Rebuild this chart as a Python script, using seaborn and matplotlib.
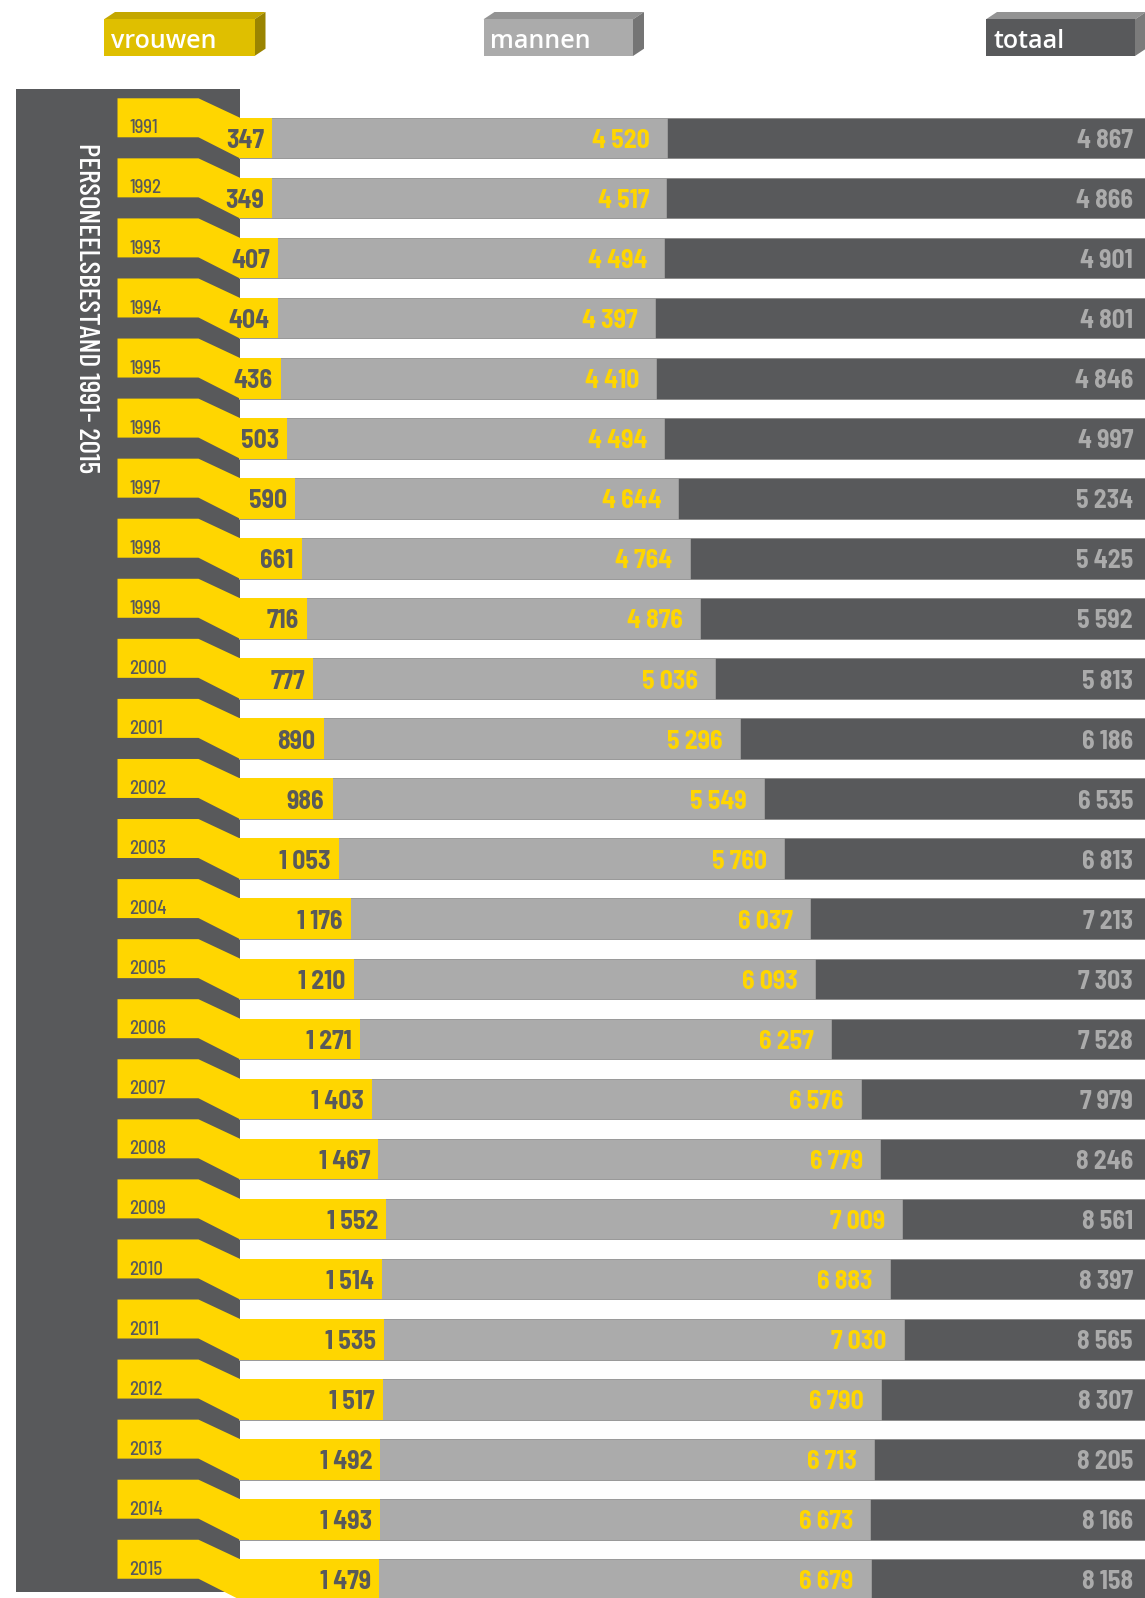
import matplotlib
matplotlib.use("Agg")
import matplotlib.pyplot as plt
from matplotlib.patches import Polygon, Rectangle
from matplotlib import font_manager as fm
import seaborn as sns
import pandas as pd

# ---------------- data ----------------
years = [str(y) for y in range(1991, 2016)]
vrouwen = [347, 349, 407, 404, 436, 503, 590, 661, 716, 777, 890, 986, 1053,
           1176, 1210, 1271, 1403, 1467, 1552, 1514, 1535, 1517, 1492, 1493, 1479]
mannen = [4520, 4517, 4494, 4397, 4410, 4494, 4644, 4764, 4876, 5036, 5296, 5549, 5760,
          6037, 6093, 6257, 6576, 6779, 7009, 6883, 7030, 6790, 6713, 6673, 6679]
totaal = [4867, 4866, 4901, 4801, 4846, 4997, 5234, 5425, 5592, 5813, 6186, 6535, 6813,
          7213, 7303, 7528, 7979, 8246, 8561, 8397, 8565, 8307, 8205, 8166, 8158]
legend_labels = ["vrouwen", "mannen", "totaal"]
title = "PERSONEELSBESTAND 1991- 2015"

# ---------------- style ----------------
YELLOW = "#FFD600"
GREY = "#ABABAB"
DARK = "#58595B"

sns.set_theme(style="white")
names = {f.name for f in fm.fontManager.ttflist}

def pick(*cands):
    for c in cands:
        if c in names:
            return c
    return "DejaVu Sans"

NUM_FONT = pick("Barlow Semi Condensed", "Roboto Condensed", "Fira Sans Condensed",
                "PT Sans Narrow", "Liberation Sans Narrow")
TITLE_FONT = pick("Barlow Condensed", "Roboto Condensed", "PT Sans Narrow",
                  "Liberation Sans Narrow")
LEG_FONT = pick("Open Sans", "Noto Sans")
plt.rcParams["font.family"] = [NUM_FONT, "DejaVu Sans"]

W, H = 1145, 1598
fig = plt.figure(figsize=(W / 100, H / 100), dpi=100)

# layout (pixels)
ROW0, STEP = 138.0, 60.06
BAR_H = 40.6
X0 = 239.4
PX_PER_UNIT = 0.0945
XMAX = (W - X0) / PX_PER_UNIT

# background overlay axes in pixel coordinates
bg = fig.add_axes([0, 0, 1, 1], zorder=0)
bg.set_xlim(0, W)
bg.set_ylim(H, 0)
bg.axis("off")

# sidebar
bg.add_patch(Rectangle((16.3, 89.3), 239.7 - 16.3, 1592.3 - 89.3, color=DARK, lw=0))
bg.text(86, 143, title, rotation=-90, ha="center", va="top", color="white",
        fontsize=21.2, family=[TITLE_FONT, "DejaVu Sans"], fontweight="medium")

# flags
for i, yr in enumerate(years):
    c = ROW0 + STEP * i
    poly = [(117.5, c - 39.7), (198.5, c - 39.7), (239.9, c - 20.3),
            (239.9, c + 20.3), (198.5, c - 0.7), (117.5, c - 0.7)]
    bg.add_patch(Polygon(poly, closed=True, facecolor=YELLOW, edgecolor="none"))
    bg.text(129.5, c - 4.6, yr, ha="left", va="baseline", color=DARK, fontsize=13.5,
            fontweight="medium")

# legend boxes
def box3d(x0, x1, y0, y1, dx, dy, front, top, side, label):
    bg.add_patch(Polygon([(x0, y0), (x0 + dx, y0 - dy), (x1 + dx, y0 - dy), (x1, y0)],
                         closed=True, facecolor=top, edgecolor="none"))
    bg.add_patch(Polygon([(x1, y0), (x1 + dx, y0 - dy), (x1 + dx, y1 - dy), (x1, y1)],
                         closed=True, facecolor=side, edgecolor="none"))
    bg.add_patch(Rectangle((x0, y0), x1 - x0, y1 - y0, facecolor=front, edgecolor="none"))
    bg.text(x0 + 7, 48.5, label, ha="left", va="baseline", color="white",
            fontsize=18, family=[LEG_FONT, "DejaVu Sans"], fontweight="semibold")

box3d(104, 254.5, 19.3, 56, 11, 7.3, "#DFBF00", "#C4A700", "#9A8400", legend_labels[0])
box3d(483.5, 633, 19.3, 56, 11, 7.3, "#ABABAB", "#939393", "#757575", legend_labels[1])
box3d(986, 1135, 19.3, 56, 11, 7.3, "#58595B", "#939393", "#7B7B7B", legend_labels[2])

# ---------------- bars ----------------
ax = fig.add_axes([X0 / W, 0, 1 - X0 / W, 1], zorder=1)
ax.patch.set_alpha(0)
df = pd.DataFrame({"jaar": years, "vrouwen": vrouwen, "mannen": mannen,
                   "totaal": totaal, "vulling": [XMAX] * len(years)})
bw = BAR_H / STEP
sns.barplot(data=df, x="vulling", y="jaar", order=years, orient="h", color=DARK,
            saturation=1, width=bw, edgecolor="#8E8E8E", linewidth=0.7, ax=ax)
sns.barplot(data=df, x="mannen", y="jaar", order=years, orient="h", color=GREY,
            saturation=1, width=bw, edgecolor="#9A9A9A", linewidth=0.7, ax=ax)
sns.barplot(data=df, x="vrouwen", y="jaar", order=years, orient="h", color=YELLOW,
            saturation=1, width=bw, edgecolor="none", linewidth=0, ax=ax)
ax.set_xlim(0, XMAX)
ax.set_ylim((H - ROW0) / STEP, -ROW0 / STEP)
ax.axis("off")

def fmt(v):
    return f"{v:,}".replace(",", " ")

PT = 0.72  # points per pixel at dpi 100
FS = 18.5
for i in range(len(years)):
    ax.annotate(fmt(vrouwen[i]), xy=(vrouwen[i], i), xytext=(-8 * PT, -10 * PT),
                textcoords="offset points", ha="right", va="baseline",
                color=DARK, fontsize=FS, fontweight="bold", annotation_clip=False)
    ax.annotate(fmt(mannen[i]), xy=(mannen[i], i), xytext=(-17 * PT, -10 * PT),
                textcoords="offset points", ha="right", va="baseline",
                color=YELLOW, fontsize=FS, fontweight="bold", annotation_clip=False)
    ax.annotate(fmt(totaal[i]), xy=(1, i), xycoords=("axes fraction", "data"),
                xytext=(-12 * PT, -10 * PT), textcoords="offset points",
                ha="right", va="baseline", color=GREY, fontsize=FS,
                fontweight="bold", annotation_clip=False)

fig.savefig("out.png", dpi=100)
